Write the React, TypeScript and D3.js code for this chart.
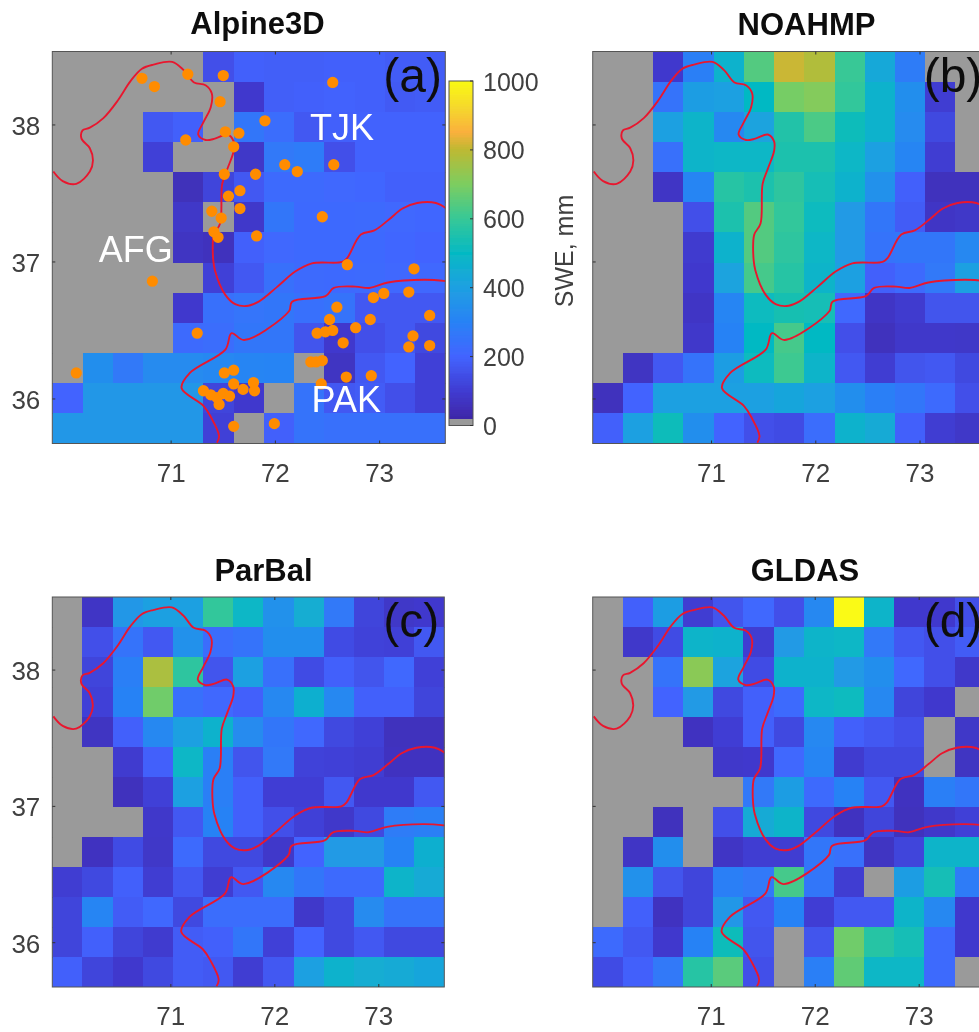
import React from "react";
import * as d3 from "d3";

const N = null;
const gridA = [
  [N,N,N,N,N,150,190,185,185,190,190,180,180],
  [N,N,N,N,N,N,90,185,190,195,190,175,180],
  [N,N,N,170,190,N,260,230,170,190,195,195,195],
  [N,N,N,110,N,N,80,270,275,150,195,195,195],
  [N,N,N,N,55,120,170,220,220,210,205,190,190],
  [N,N,N,N,80,N,85,260,215,215,220,210,205],
  [N,N,N,N,70,60,190,210,215,215,215,205,200],
  [N,N,N,N,N,110,170,240,220,215,220,210,210],
  [N,N,N,N,90,240,255,260,235,250,170,170,170],
  [N,N,N,N,220,230,260,260,160,90,150,170,130],
  [N,340,270,330,330,320,310,305,N,70,170,200,110],
  [200,370,370,370,370,120,90,N,250,170,180,150,110],
  [370,370,370,370,370,110,N,190,250,240,240,240,240],
];
const gridB = [
  [N,N,90,290,470,640,810,780,600,430,280,N,N],
  [N,N,250,390,400,500,690,710,590,470,340,100,N],
  [N,N,400,480,320,410,560,630,520,470,330,130,N],
  [N,N,240,480,490,490,550,550,490,400,310,100,N],
  [N,N,75,310,570,550,580,530,470,350,190,60,60],
  [N,N,N,150,550,640,590,510,380,260,180,75,80],
  [N,N,N,95,470,640,580,490,380,250,260,260,320],
  [N,N,N,90,410,620,570,480,400,190,220,270,400],
  [N,N,N,75,310,510,540,530,210,75,95,160,160],
  [N,N,N,85,300,500,620,500,150,60,85,85,80],
  [N,70,170,250,390,510,610,480,170,100,160,170,130],
  [60,200,400,400,400,400,420,400,340,290,260,220,150],
  [190,400,520,340,200,150,140,230,470,440,190,100,80],
];
const gridC = [
  [N,75,370,400,400,590,490,350,450,270,120,80,90],
  [N,150,250,170,350,230,250,340,340,140,115,110,170],
  [N,120,290,770,580,160,400,240,140,190,160,210,110],
  [N,110,300,680,240,210,190,320,460,320,190,190,120],
  [N,70,190,320,400,470,330,260,210,130,110,60,60],
  [N,N,95,190,490,290,160,270,115,110,100,65,65],
  [N,N,60,110,400,290,190,105,105,170,90,90,170],
  [N,N,N,85,170,300,190,150,110,85,130,280,290],
  [N,65,140,80,220,130,130,85,200,380,380,300,460],
  [100,130,190,100,170,100,170,320,260,220,220,480,440],
  [120,310,180,210,130,230,230,230,85,130,330,250,250],
  [120,190,120,95,180,190,260,110,200,130,170,130,130],
  [190,120,90,130,180,170,100,170,400,470,450,440,420],
];
const gridD = [
  [N,190,390,100,160,210,150,320,1000,480,90,90,150],
  [N,85,140,480,470,100,380,480,490,270,170,150,180],
  [N,N,250,720,410,140,470,470,380,340,210,150,85],
  [N,N,200,380,130,190,220,490,510,320,120,90,N],
  [N,N,N,65,105,190,130,320,190,170,150,N,80],
  [N,N,N,N,85,90,210,310,95,130,130,N,70],
  [N,N,N,N,N,270,390,220,300,170,65,290,260],
  [N,N,60,N,150,440,480,130,65,120,60,85,110],
  [N,75,340,N,75,100,100,260,240,70,120,480,480],
  [N,350,160,120,290,270,620,260,100,N,390,530,280],
  [N,190,65,120,370,170,300,105,170,170,480,320,90],
  [220,170,90,300,520,160,N,160,680,570,530,220,90],
  [140,190,270,570,650,150,N,290,660,490,490,220,N],
];

const border1: [number, number][] = [
  [69.87,37.66],[69.96,37.59],[70.09,37.57],[70.22,37.66],[70.25,37.74],[70.22,37.83],[70.14,37.90],[70.15,37.96],
  [70.22,37.98],[70.35,38.05],[70.49,38.18],[70.61,38.32],[70.72,38.41],[70.83,38.44],[71.01,38.46],[71.12,38.40],
  [71.22,38.31],[71.33,38.29],[71.39,38.23],[71.38,38.13],[71.31,38.02],[71.26,37.93],[71.33,37.89],[71.42,37.90],
  [71.54,37.93],[71.60,37.88],[71.60,37.81],[71.54,37.68],[71.49,37.57],[71.47,37.28],[71.41,37.20],[71.40,37.06],
  [71.42,36.94],[71.52,36.76],[71.62,36.69],[71.74,36.68],[71.84,36.71],[72.02,36.82],[72.19,36.93],[72.35,36.99],
  [72.64,37.00],[72.69,37.03],[72.82,37.20],[72.95,37.23],[73.09,37.31],[73.22,37.39],[73.36,37.43],[73.54,37.43],[73.64,37.39],
];
const border2: [number, number][] = [
  [71.44,35.68],[71.46,35.73],[71.38,35.87],[71.31,35.95],[71.10,36.08],[71.18,36.19],[71.52,36.36],[71.58,36.48],
  [71.70,36.43],[72.13,36.64],[72.16,36.71],[72.48,36.75],[72.56,36.81],[72.77,36.82],[72.90,36.81],[73.08,36.85],[73.43,36.87],[73.64,36.86],
];
const stations: [number, number][] = [
  [70.72,38.34],[70.84,38.28],[71.16,38.37],[71.50,38.36],[72.55,38.31],[71.47,38.17],[71.90,38.03],[71.52,37.95],
  [71.65,37.94],[71.14,37.89],[71.60,37.84],[72.09,37.71],[72.21,37.66],[72.56,37.71],[71.51,37.64],[71.81,37.64],
  [71.66,37.52],[71.55,37.48],[71.66,37.39],[71.39,37.37],[71.48,37.32],[72.45,37.33],[71.41,37.22],[71.45,37.18],
  [71.82,37.19],[72.69,36.98],[73.33,36.95],[70.82,36.86],[73.28,36.78],[73.04,36.77],[72.94,36.74],[72.59,36.67],
  [73.48,36.61],[72.91,36.58],[72.52,36.58],[72.77,36.52],[71.25,36.48],[72.40,36.48],[72.48,36.49],[72.55,36.50],
  [73.32,36.46],[72.65,36.41],[73.28,36.38],[73.48,36.39],[72.34,36.27],[72.39,36.27],[72.45,36.28],[70.09,36.19],
  [71.51,36.19],[71.60,36.21],[72.68,36.16],[72.92,36.17],[72.44,36.11],[71.60,36.11],[71.79,36.12],[71.31,36.06],
  [71.38,36.03],[71.50,36.04],[71.69,36.07],[71.80,36.06],[71.56,36.02],[71.44,36.01],[71.46,35.96],[71.60,35.80],[71.99,35.82],
];
const places: [string, number, number][] = [["TJK",72.64,37.89],["AFG",70.66,37.0],["PAK",72.68,35.905]];
const xTicks = [71, 72, 73];
const yTicks = [36, 37, 38];
const barTicks = [0, 200, 400, 600, 800, 1000];
const colorStops = [20,100,200,300,400,500,600,700,800,850,920,1000];
const colorValues = ["#3e26a8","#413cd2","#4264ff","#2882f5","#1ea0e1","#05b9c3","#37c896","#7dcd5f","#beb932","#fab03c","#f5d72d","#fafa14"];

const color = d3.scaleLinear<string>().domain(colorStops).range(colorValues).interpolate(d3.interpolateRgb).clamp(true);
const GRAY = "#9a9a9a";
const TXT = "#404040";
const FONT = "'Liberation Sans', Arial, sans-serif";
const lonDomain: [number, number] = [69.86, 73.63];
const latDomain: [number, number] = [35.675, 38.536];

function Panel({ grid, title, titleX, titleY, tag, left, top, w, h, yLabels, id, extras }: any) {
  const x = d3.scaleLinear().domain(lonDomain).range([left, left + w]);
  const y = d3.scaleLinear().domain(latDomain).range([top + h, top]);
  const idx = d3.range(13);
  const bx = d3.scaleBand<number>().domain(idx).range([left, left + w]);
  const by = d3.scaleBand<number>().domain(idx).range([top, top + h]);
  const line = d3.line<[number, number]>().x(d => x(d[0])).y(d => y(d[1])).curve(d3.curveCatmullRom.alpha(0.5));
  return (
    <g>
      <clipPath id={id}><rect x={left} y={top} width={w} height={h} /></clipPath>
      <text x={titleX} y={titleY} textAnchor="middle" fontFamily={FONT} fontWeight="bold" fontSize={31} fill="#111">{title}</text>
      <g clipPath={`url(#${id})`}>
        <g shapeRendering="crispEdges">
          {grid.map((row: (number | null)[], r: number) => row.map((v, c) => (
            <rect key={`${r}-${c}`} x={bx(c)} y={by(r)} width={bx.bandwidth() + 0.5} height={by.bandwidth() + 0.5} fill={v === null ? GRAY : color(v)} />
          )))}
        </g>
        <path d={line(border1) || ""} fill="none" stroke="#e8182f" strokeWidth={1.9} />
        <path d={line(border2) || ""} fill="none" stroke="#e8182f" strokeWidth={1.9} />
        {extras && stations.map((s, i) => (
          <path key={i} transform={`translate(${x(s[0])},${y(s[1])})`} d={d3.symbol(d3.symbolCircle, 100)() || ""} fill="#ff8c05" />
        ))}
        {extras && places.map(p => (
          <text key={p[0]} x={x(p[1])} y={y(p[2])} textAnchor="middle" fontFamily={FONT} fontSize={36} fill="#ffffff">{p[0]}</text>
        ))}
      </g>
      <rect x={left} y={top} width={w} height={h} fill="none" stroke="#555" strokeWidth={1} />
      {xTicks.map(t => (
        <g key={t}>
          <line x1={x(t)} x2={x(t)} y1={top + h} y2={top + h - 3} stroke="#333" />
          <line x1={x(t)} x2={x(t)} y1={top} y2={top + 3} stroke="#333" />
          <text x={x(t)} y={top + h + 38} textAnchor="middle" fontFamily={FONT} fontSize={26} fill={TXT}>{t}</text>
        </g>
      ))}
      {yTicks.map(t => (
        <g key={t}>
          <line x1={left} x2={left + 3} y1={y(t)} y2={y(t)} stroke="#333" />
          <line x1={left + w} x2={left + w - 3} y1={y(t)} y2={y(t)} stroke="#333" />
          {yLabels && <text x={left - 12} y={y(t) + 10} textAnchor="end" fontFamily={FONT} fontSize={26} fill={TXT}>{t}</text>}
        </g>
      ))}
      <text x={left + 331} y={top + 40} fontFamily={FONT} fontSize={48} fill="#111">{tag}</text>
    </g>
  );
}

export default function App() {
  const barY = d3.scaleLinear().domain([0, 1000]).range([425.5, 81]);
  const levels = d3.range(20, 1000, 5);
  return (
    <svg width={979} height={1032} style={{ position: "absolute", left: 0, top: 0, background: "#fff" }}>
      <filter id="soft" x="-2%" y="-2%" width="104%" height="104%"><feGaussianBlur stdDeviation={0.55} /></filter>
      <g filter="url(#soft)">
        <Panel id="a" grid={gridA} title="Alpine3D" titleX={257.5} titleY={33.5} tag="(a)" left={52.3} top={51.5} w={393} h={392} yLabels extras />
        <Panel id="b" grid={gridB} title="NOAHMP" titleX={806.5} titleY={34.5} tag="(b)" left={592.7} top={51.5} w={393} h={392} />
        <Panel id="c" grid={gridC} title="ParBal" titleX={263.5} titleY={581} tag="(c)" left={52.3} top={597} w={392} h={390} yLabels />
        <Panel id="d" grid={gridD} title="GLDAS" titleX={805} titleY={581} tag="(d)" left={592.7} top={597} w={392} h={390} />
        <g shapeRendering="crispEdges">
          {levels.map(v => (
            <rect key={v} x={449} y={barY(v + 5)} width={24} height={barY(v) - barY(v + 5) + 0.5} fill={color(v)} />
          ))}
          <rect x={449} y={barY(20)} width={24} height={barY(0) - barY(20)} fill={GRAY} />
        </g>
        <rect x={449} y={81} width={24} height={344.5} fill="none" stroke="#555" />
        {barTicks.map(t => (
          <g key={t}>
            <line x1={470} x2={473} y1={barY(t)} y2={barY(t)} stroke="#333" />
            <text x={483} y={barY(t) + 9.5} fontFamily={FONT} fontSize={25} fill={TXT}>{t}</text>
          </g>
        ))}
        <text transform="translate(573,251) rotate(-90)" textAnchor="middle" fontFamily={FONT} fontSize={25} fill={TXT}>SWE, mm</text>
      </g>
    </svg>
  );
}
